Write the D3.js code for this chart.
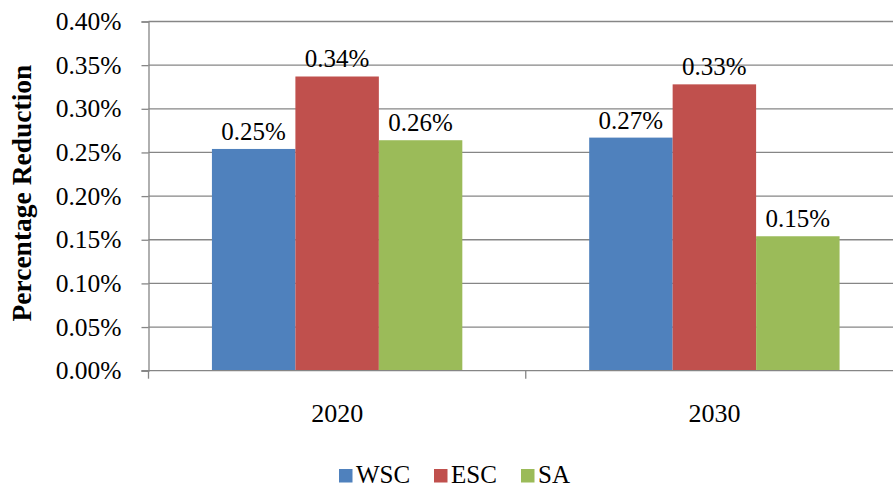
<!DOCTYPE html>
<html>
<head>
<meta charset="utf-8">
<script src="https://cdn.jsdelivr.net/npm/d3@7/dist/d3.min.js"></script>
<style>
  html, body { margin: 0; padding: 0; background: #fff; overflow: hidden; }
  svg { display: block; font-family: "Liberation Serif", "Times New Roman", serif; }
</style>
</head>
<body>
<svg id="chart" width="893" height="489"></svg>
<script>
// Years on the category axis
const categories = ["2020", "2030"];
// Regions shown as the bar series
const seriesNames = ["WSC", "ESC", "SA"];
// Percentage reduction per region (fractions), one array per region
const wscValues = [0.00254, 0.00267];
const escValues = [0.00337, 0.00328];
const saValues  = [0.00264, 0.00154];
// Y-axis tick values
const yTicks = [0, 0.0005, 0.001, 0.0015, 0.002, 0.0025, 0.003, 0.0035, 0.004];

const colors = { WSC: "#4F81BD", ESC: "#C0504D", SA: "#9BBB59" };
const valuesBySeries = { WSC: wscValues, ESC: escValues, SA: saValues };

const svg = d3.select("#chart");
const plot = { left: 148.5, right: 903, top: 21.5, bottom: 370.7 };
const pct = d3.format(".2%");
const serif = "Liberation Serif";

const x = d3.scaleBand().domain(categories).range([plot.left, plot.right]).padding(0);
const xInner = d3.scaleBand().domain(seriesNames).range([0, x.bandwidth()])
  .paddingInner(0).paddingOuter(0.76);
const y = d3.scaleLinear().domain([0, 0.004]).range([plot.bottom, plot.top]);

const gridColor = "#868686";

// Horizontal gridlines
svg.append("g")
  .selectAll("line")
  .data(yTicks.slice(1))
  .join("line")
  .attr("x1", plot.left).attr("x2", plot.right)
  .attr("y1", d => y(d)).attr("y2", d => y(d))
  .attr("stroke", gridColor).attr("stroke-width", 1.3);

// Y axis
const yAxis = svg.append("g")
  .attr("transform", `translate(${plot.left},0)`)
  .call(d3.axisLeft(y).tickValues(yTicks).tickFormat(pct).tickSize(7).tickPadding(20));
yAxis.attr("font-family", serif);
yAxis.select(".domain").attr("stroke", gridColor).attr("stroke-width", 1.3);
yAxis.selectAll(".tick line").attr("stroke", gridColor).attr("stroke-width", 1.3);
yAxis.selectAll(".tick text")
  .attr("font-family", serif).attr("font-size", 25.5).attr("fill", "#000");

// Bars
const rows = categories.map((c, i) => ({
  category: c,
  items: seriesNames.map(s => ({ series: s, value: valuesBySeries[s][i] }))
}));

const groups = svg.append("g").selectAll("g")
  .data(rows)
  .join("g")
  .attr("transform", d => `translate(${x(d.category)},0)`);

groups.selectAll("rect")
  .data(d => d.items)
  .join("rect")
  .attr("x", d => xInner(d.series))
  .attr("width", xInner.bandwidth())
  .attr("y", d => y(d.value))
  .attr("height", d => y(0) - y(d.value))
  .attr("fill", d => colors[d.series]);

// Value labels above bars
groups.selectAll("text")
  .data(d => d.items)
  .join("text")
  .attr("x", d => xInner(d.series) + xInner.bandwidth() / 2)
  .attr("y", d => y(d.value) - 9)
  .attr("text-anchor", "middle")
  .attr("font-family", serif)
  .attr("font-size", 25)
  .attr("fill", "#000")
  .text(d => pct(d.value));

// X axis
const xAxis = svg.append("g")
  .attr("transform", `translate(0,${plot.bottom})`)
  .call(d3.axisBottom(x).tickSize(0).tickPadding(33));
xAxis.attr("font-family", serif);
xAxis.select(".domain").remove();
xAxis.selectAll(".tick text")
  .attr("font-family", serif).attr("font-size", 26).attr("fill", "#000");
svg.append("line")
  .attr("x1", plot.left - 7).attr("x2", plot.right)
  .attr("y1", plot.bottom).attr("y2", plot.bottom)
  .attr("stroke", gridColor).attr("stroke-width", 1.3);
// Category separator ticks
const boundaries = categories.map(c => x(c)).concat([plot.right]);
svg.append("g").selectAll("line")
  .data(boundaries)
  .join("line")
  .attr("x1", d => d).attr("x2", d => d)
  .attr("y1", plot.bottom).attr("y2", plot.bottom + 8)
  .attr("stroke", gridColor).attr("stroke-width", 1.3);

// Y axis title
svg.append("text")
  .attr("transform", `translate(31,${(plot.top + plot.bottom) / 2 - 3}) rotate(-90)`)
  .attr("text-anchor", "middle")
  .attr("font-family", serif)
  .attr("font-weight", "bold")
  .attr("font-size", 27.5)
  .attr("fill", "#000")
  .text("Percentage Reduction");

// Legend
const legendX = [339, 434, 521];
const legend = svg.append("g").selectAll("g")
  .data(seriesNames)
  .join("g")
  .attr("transform", (d, i) => `translate(${legendX[i]},469)`);
legend.append("rect")
  .attr("width", 13.5).attr("height", 13.5)
  .attr("fill", d => colors[d]);
legend.append("text")
  .attr("x", 17).attr("y", 14)
  .attr("font-family", serif)
  .attr("font-size", 25)
  .attr("fill", "#000")
  .text(d => d);
</script>
</body>
</html>
